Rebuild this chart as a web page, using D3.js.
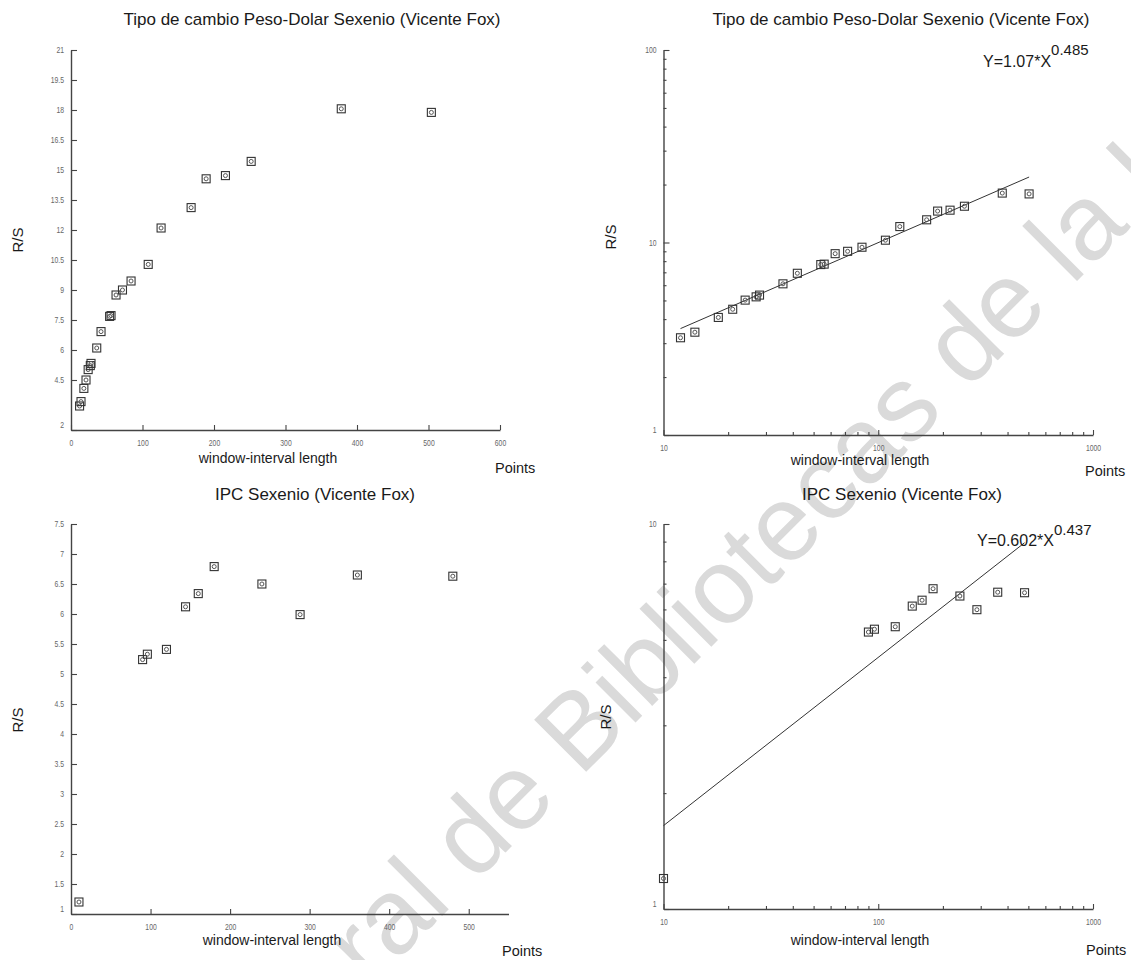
<!DOCTYPE html>
<html>
<head>
<meta charset="utf-8">
<script src="https://cdn.jsdelivr.net/npm/d3@7"></script>
<style>
  html, body { margin: 0; padding: 0; background: #fff; }
  svg { display: block; font-family: "Liberation Sans", Arial, sans-serif; }
</style>
</head>
<body>
<svg id="chart" width="1131" height="960"></svg>
<script>
// R/S analysis results, window length (points) vs rescaled range
const fxWindow = [12, 14, 18, 21, 24, 27, 28, 36, 42, 54, 56, 63, 72, 84, 108, 126, 168, 189, 216, 252, 378, 504];
const fxRS     = [3.2, 3.42, 4.08, 4.5, 5.02, 5.22, 5.33, 6.1, 6.92, 7.68, 7.72, 8.75, 9.0, 9.45, 10.28, 12.1, 13.12, 14.56, 14.72, 15.43, 18.06, 17.88];
const ipcWindow = [10, 90, 96, 120, 144, 160, 180, 240, 288, 360, 480];
const ipcRS     = [1.2, 5.24, 5.33, 5.41, 6.12, 6.34, 6.79, 6.5, 5.99, 6.65, 6.63];

// Power-law fits Y = a * X^b
const fxFit  = { a: 1.07,  b: 0.485, label: "Y=1.07*X",  exp: "0.485" };
const ipcFit = { a: 0.602, b: 0.437, label: "Y=0.602*X", exp: "0.437" };

// Tick values
const fxLinYTicks  = [2, 4.5, 6, 7.5, 9, 10.5, 12, 13.5, 15, 16.5, 18, 19.5, 21];
const fxLinXTicks  = [0, 100, 200, 300, 400, 500, 600];
const ipcLinYTicks = [1, 1.5, 2, 2.5, 3, 3.5, 4, 4.5, 5, 5.5, 6, 6.5, 7, 7.5];
const ipcLinXTicks = [0, 100, 200, 300, 400, 500];
const logXTicks    = [10, 20, 30, 40, 50, 60, 70, 80, 90, 100, 200, 300, 400, 500, 600, 700, 800, 900, 1000];
const fxLogYTicks  = [1, 2, 3, 4, 5, 6, 7, 8, 9, 10, 20, 30, 40, 50, 60, 70, 80, 90, 100];
const ipcLogYTicks = [1, 2, 3, 4, 5, 6, 7, 8, 9, 10];

const titleFx  = "Tipo de cambio Peso-Dolar Sexenio (Vicente Fox)";
const titleIpc = "IPC Sexenio (Vicente Fox)";
const watermarkText = "Dirección General de Bibliotecas de la UAQ";

const svg = d3.select("#chart");

// Library watermark behind the charts
const wm = svg.append("text")
  .attr("font-size", 107)
  .attr("fill", "#dadada")
  .text(watermarkText);
const bIdx = watermarkText.indexOf("Bibliotecas");
const bx = wm.node().getStartPositionOfChar(bIdx).x;
wm.attr("transform", `translate(580,778) rotate(-45) translate(${-bx},0)`);

const isPow10 = v => Math.abs(Math.log10(v) - Math.round(Math.log10(v))) < 1e-9;

const panels = [
  { title: titleFx,  tx: 312, ty: 25, xs: d3.scaleLinear().domain([0, 600]).range([71, 500]),
    ys: d3.scaleLinear().domain([2, 21]).range([430, 50]), xt: fxLinXTicks, yt: fxLinYTicks,
    xd: fxWindow, yd: fxRS, log: false,
    rsX: 18, rsY: 240, wlX: 268, wlY: 463, ptX: 495, ptY: 473 },
  { title: titleFx,  tx: 901, ty: 25, xs: d3.scaleLog().domain([10, 1000]).range([663.5, 1093]),
    ys: d3.scaleLog().domain([1, 100]).range([435, 50]), xt: logXTicks, yt: fxLogYTicks,
    xd: fxWindow, yd: fxRS, log: true, fit: fxFit, eqX: 983, eqY: 66.5,
    rsX: 611, rsY: 237, wlX: 860, wlY: 465, ptX: 1085, ptY: 476 },
  { title: titleIpc, tx: 315, ty: 500, xs: d3.scaleLinear().domain([0, 550]).range([71, 508.5]),
    ys: d3.scaleLinear().domain([1, 7.5]).range([914, 524]), xt: ipcLinXTicks, yt: ipcLinYTicks,
    xd: ipcWindow, yd: ipcRS, log: false,
    rsX: 18, rsY: 720, wlX: 272, wlY: 945, ptX: 502, ptY: 956 },
  { title: titleIpc, tx: 902, ty: 500, xs: d3.scaleLog().domain([10, 1000]).range([663.5, 1093]),
    ys: d3.scaleLog().domain([1, 10]).range([909, 524]), xt: logXTicks, yt: ipcLogYTicks,
    xd: ipcWindow, yd: ipcRS, log: true, fit: ipcFit, eqX: 977, eqY: 546,
    rsX: 606, rsY: 717, wlX: 860, wlY: 945, ptX: 1086, ptY: 955 }
];

function condense(sel, k) {
  sel.each(function () {
    const len = this.getComputedTextLength();
    this.setAttribute("textLength", len * k);
    this.setAttribute("lengthAdjust", "spacingAndGlyphs");
  });
}

function styleAxis(g, p, isY) {
  g.select(".domain").attr("stroke", "#444").attr("stroke-width", 1.4);
  g.selectAll(".tick line").attr("stroke", "#444").attr("stroke-width", 1.1);
  g.selectAll(".tick text").attr("fill", "#666").attr("font-size", 8.5)
    .attr("font-family", "Liberation Sans, Arial, sans-serif");
  if (p.log) {
    g.selectAll(".tick").filter(d => !isPow10(d)).select("line")
      .attr(isY ? "x2" : "y2", isY ? 3 : -3);
  }
  condense(g.selectAll(".tick text"), 0.8);
}

panels.forEach(p => {
  const g = svg.append("g");
  const x0 = p.xs.range()[0];
  const y0 = p.ys.range()[0];
  const fmt = p.log ? (d => isPow10(d) ? d3.format("d")(d) : "") : d3.format("~g");

  const xAxis = d3.axisBottom(p.xs).tickValues(p.xt).tickFormat(fmt)
    .tickSizeInner(-5).tickSizeOuter(0).tickPadding(10);
  const gx = g.append("g").attr("transform", `translate(0,${y0})`).call(xAxis);
  styleAxis(gx, p, false);

  const yAxis = d3.axisLeft(p.ys).tickValues(p.yt).tickFormat(fmt)
    .tickSizeInner(-6).tickSizeOuter(0).tickPadding(7);
  const gy = g.append("g").attr("transform", `translate(${x0},0)`).call(yAxis);
  styleAxis(gy, p, true);
  // lowest label sits just above the x axis
  const yMin = p.ys.domain()[0];
  gy.selectAll(".tick").filter(d => d === yMin).select("text").attr("y", -5);

  // fitted power law
  if (p.fit) {
    const ends = d3.extent(p.xd);
    const line = d3.line().x(d => p.xs(d)).y(d => p.ys(p.fit.a * Math.pow(d, p.fit.b)));
    g.append("path").datum(ends).attr("d", line)
      .attr("fill", "none").attr("stroke", "#333").attr("stroke-width", 1);
    const eq = g.append("text").attr("x", p.eqX).attr("y", p.eqY)
      .attr("font-size", 16).attr("fill", "#1a1a1a");
    eq.append("tspan").text(p.fit.label);
    eq.append("tspan").attr("dy", -11.5).attr("font-size", 15).text(p.fit.exp);
  }

  // data markers
  const pts = g.selectAll("g.pt").data(d3.zip(p.xd, p.yd)).join("g")
    .attr("class", "pt")
    .attr("transform", d => `translate(${p.xs(d[0])},${p.ys(d[1])})`);
  pts.append("rect").attr("x", -4).attr("y", -4).attr("width", 8).attr("height", 8)
    .attr("fill", "none").attr("stroke", "#333").attr("stroke-width", 1.1);
  pts.append("circle").attr("r", 2).attr("fill", "none").attr("stroke", "#555").attr("stroke-width", 1);

  // titles and axis labels
  g.append("text").attr("x", p.tx).attr("y", p.ty).attr("text-anchor", "middle")
    .attr("font-size", 17).attr("fill", "#1a1a1a").text(p.title);
  g.append("text").attr("transform", `translate(${p.rsX + 5},${p.rsY}) rotate(-90)`)
    .attr("text-anchor", "middle").attr("font-size", 15).attr("fill", "#1a1a1a").text("R/S");
  g.append("text").attr("x", p.wlX).attr("y", p.wlY).attr("text-anchor", "middle")
    .attr("font-size", 14).attr("fill", "#1a1a1a").text("window-interval length");
  g.append("text").attr("x", p.ptX).attr("y", p.ptY)
    .attr("font-size", 14.5).attr("fill", "#1a1a1a").text("Points");
});
</script>
</body>
</html>
